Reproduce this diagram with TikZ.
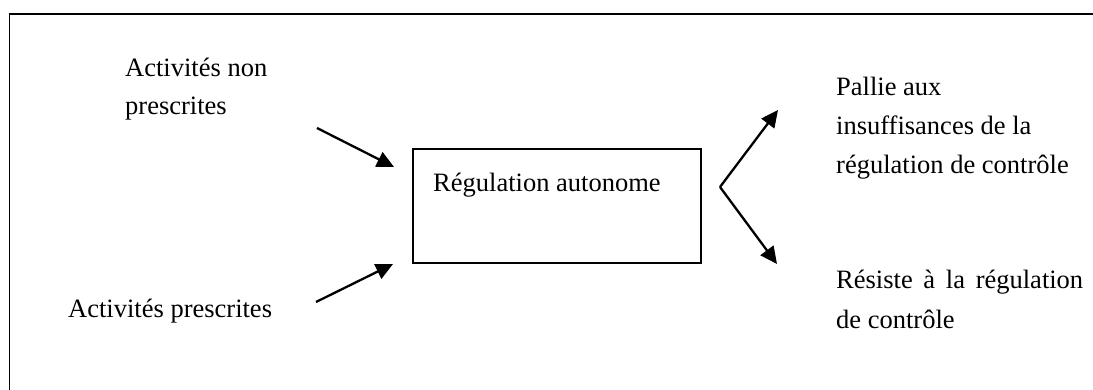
\documentclass[tikz,border=0pt]{standalone}
\usepackage{fontspec}
\setmainfont{Liberation Serif}
\usetikzlibrary{arrows.meta}
\begin{document}
\begin{tikzpicture}[x=1pt,y=-1pt,
  txt/.style={inner sep=0pt, anchor=base west, align=left, font=\fontsize{26.5}{38.5}\selectfont},
  arr/.style={line width=2.3pt, -{Triangle[length=17pt,width=16pt]}},
  frame/.style={line width=1.8pt},
  boxstyle/.style={draw, line width=1.8pt, minimum width=288pt, minimum height=114pt, inner sep=0pt}]
\useasboundingbox (0,0) rectangle (1093,390);
\draw[frame] (1093,14) -- (9.5,14) -- (9.5,390);
\node[boxstyle] (box) at (557,206) {};
\node[txt] (lbl) at (433,192) {Régulation autonome};
\node[txt] (nonp) at (125,115) {Activités non\\prescrites};
\node[txt] (presc) at (68,317) {Activités prescrites};
\node[txt, font=\fontsize{26.5}{39}\selectfont] (pallie) at (836,174) {Pallie aux\\insuffisances de la\\régulation de contrôle};
\node[txt, font=\fontsize{26.5}{40}\selectfont] (resiste) at (836,328) {\makebox[247pt][s]{Résiste à la régulation}\\de contrôle};
\coordinate (a1s) at (317,128);
\coordinate (a1e) at (394,167);
\coordinate (a2s) at (316,302);
\coordinate (a2e) at (393,264);
\coordinate (v) at (720,187);
\coordinate (a3e) at (778,110);
\coordinate (a4e) at (777,264);
\draw[arr] (a1s) -- (a1e);
\draw[arr] (a2s) -- (a2e);
\draw[arr] (v) -- (a3e);
\draw[arr] (v) -- (a4e);
\end{tikzpicture}
\end{document}
